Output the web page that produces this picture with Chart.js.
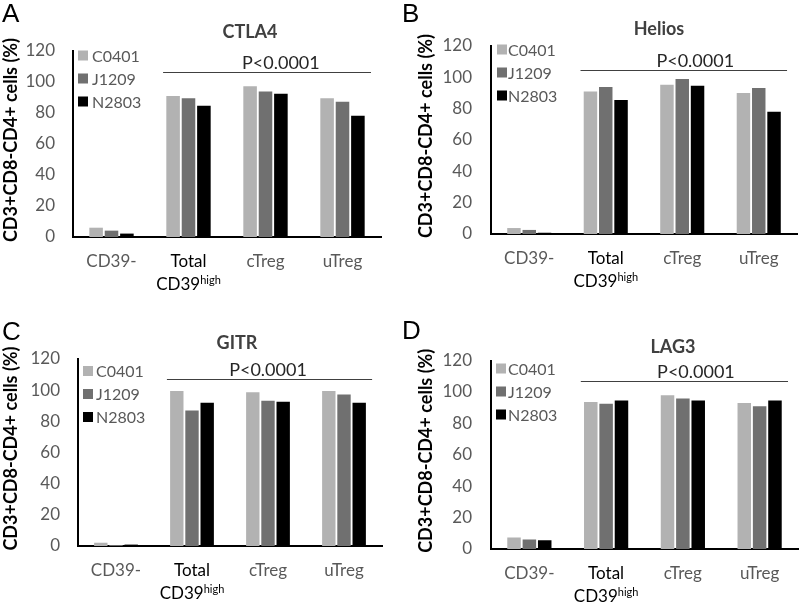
<!DOCTYPE html>
<html>
<head>
<meta charset="utf-8">
<script src="https://cdn.jsdelivr.net/npm/chart.js@4/dist/chart.umd.min.js"></script>
<style>
  body { margin: 0; background: #fff; }
  #wrap { position: relative; width: 800px; height: 609px; }
  #wrap canvas { position: absolute; }
</style>
</head>
<body>
<div id="wrap">
  <canvas id="panelA" width="400" height="300" style="left:0;top:0"></canvas>
  <canvas id="panelB" width="400" height="300" style="left:400px;top:0"></canvas>
  <canvas id="panelC" width="400" height="309" style="left:0;top:300px"></canvas>
  <canvas id="panelD" width="400" height="309" style="left:400px;top:300px"></canvas>
</div>
<script>
// categories, series and ticks (shared by the four panels)
const categories = ['CD39-', 'Total\nCD39^high', 'cTreg', 'uTreg'];
const seriesNames = ['C0401', 'J1209', 'N2803'];
const yTicks = [0, 20, 40, 60, 80, 100, 120];
const yTitle = 'CD3+CD8-CD4+ cells (%)';
const sigText = 'P<0.0001';

// CTLA4 (A)
const ctla4C0401 = [6.0, 91.0, 97.2, 89.5];
const ctla4J1209 = [4.1, 89.5, 93.8, 87.3];
const ctla4N2803 = [2.2, 84.7, 92.5, 78.3];

// Helios (B)
const heliosC0401 = [3.8, 91.0, 95.3, 90.0];
const heliosJ1209 = [2.6, 93.8, 98.9, 93.2];
const heliosN2803 = [0.8, 85.5, 94.7, 78.1];

// GITR (C)
const gitrC0401 = [2.1, 99.4, 98.7, 99.4];
const gitrJ1209 = [0.6, 87.0, 93.2, 97.2];
const gitrN2803 = [0.9, 91.9, 92.5, 91.9];

// LAG3 (D)
const lag3C0401 = [7.4, 93.6, 97.9, 93.0];
const lag3J1209 = [6.1, 92.4, 95.8, 90.9];
const lag3N2803 = [5.5, 94.5, 94.5, 94.5];

// significance bar: from / to (category index), height (value)
const sigFrom = 0.67;
const sigTo = 3.37;
const sigLevels = [106.5, 104.5, 107, 107];

// styling
const seriesColors = ['#b2b2b2', '#707070', '#000000'];
const labelColors = ['#595959', '#000000', '#595959', '#595959'];
const grayText = '#595959';

const panels = [
    { id: 'panelA', letter: 'A', title: 'CTLA4', values: [ctla4C0401, ctla4J1209, ctla4N2803], sig: sigLevels[0],
      w: 400, h: 300, area: { l: 73, r: 381, t: 51, b: 237 }, tickPad: 18,
      titleX: 250, titleY: 32, letterY: 22, yTitleX: 11, legendX: 78, legendY: 55.5, legendTextX: 92, pIdx: 2.2 },
    { id: 'panelB', letter: 'B', title: 'Helios', values: [heliosC0401, heliosJ1209, heliosN2803], sig: sigLevels[1],
      w: 400, h: 300, area: { l: 91, r: 397, t: 46, b: 234 }, tickPad: 19,
      titleX: 259, titleY: 29, letterY: 22, yTitleX: 26, legendX: 97, legendY: 49.5, legendTextX: 108, pIdx: 2.17 },
    { id: 'panelC', letter: 'C', title: 'GITR', values: [gitrC0401, gitrJ1209, gitrN2803], sig: sigLevels[2],
      w: 400, h: 309, area: { l: 78, r: 382, t: 59, b: 246 }, tickPad: 18,
      titleX: 237, titleY: 43, letterY: 40, yTitleX: 11, legendX: 83, legendY: 71, legendTextX: 96, pIdx: 2.0 },
    { id: 'panelD', letter: 'D', title: 'LAG3', values: [lag3C0401, lag3J1209, lag3N2803], sig: sigLevels[3],
      w: 400, h: 309, area: { l: 91, r: 398, t: 60.5, b: 249 }, tickPad: 19,
      titleX: 273, titleY: 47, letterY: 39, yTitleX: 26, legendX: 96, legendY: 68.5, legendTextX: 108, pIdx: 2.17 }
];

// titles, legend, significance bar and two-line category labels
const panelDecor = {
    id: 'panelDecor',
    afterDraw(chart) {
        const p = panels.find(q => q.id === chart.canvas.id);
        const ctx = chart.ctx;
        const xs = chart.scales.x;
        const ys = chart.scales.y;
        const area = chart.chartArea;
        ctx.save();

        ctx.fillStyle = '#000';
        ctx.textAlign = 'left';
        ctx.textBaseline = 'alphabetic';
        ctx.font = '26px "Liberation Sans"';
        ctx.fillText(p.letter, 2, p.letterY);

        ctx.fillStyle = '#404040';
        ctx.textAlign = 'center';
        ctx.textBaseline = 'middle';
        ctx.font = 'bold 18px Lato';
        ctx.fillText(p.title, p.titleX, p.titleY);

        // y axis title
        ctx.save();
        ctx.translate(p.yTitleX, (area.top + area.bottom) / 2 - 4);
        ctx.rotate(-Math.PI / 2);
        ctx.fillStyle = '#000';
        ctx.font = 'bold 18px Lato';
        ctx.fillText(yTitle, 0, 0);
        ctx.restore();

        // legend
        ctx.textAlign = 'left';
        ctx.font = '16px Lato';
        seriesNames.forEach(function(name, i) {
            const cy = p.legendY + i * 23;
            ctx.fillStyle = seriesColors[i];
            ctx.fillRect(p.legendX, cy - 5, 10, 10);
            ctx.fillStyle = grayText;
            ctx.fillText(name, p.legendTextX, cy + 1);
        });

        // significance bar
        const y = ys.getPixelForValue(p.sig);
        ctx.strokeStyle = '#404040';
        ctx.lineWidth = 1;
        ctx.beginPath();
        ctx.moveTo(xs.getPixelForValue(sigFrom), Math.round(y) + 0.5);
        ctx.lineTo(xs.getPixelForValue(sigTo), Math.round(y) + 0.5);
        ctx.stroke();
        ctx.fillStyle = '#262626';
        ctx.textAlign = 'center';
        ctx.textBaseline = 'alphabetic';
        ctx.font = '18px Lato';
        ctx.fillText(sigText, xs.getPixelForValue(p.pIdx), y - 3);

        // category labels
        ctx.textBaseline = 'middle';
        categories.forEach(function(label, i) {
            const cx = xs.getPixelForTick(i);
            ctx.fillStyle = labelColors[i];
            label.split('\n').forEach(function(line, j) {
                const ly = area.bottom + 25 + j * 23;
                const parts = line.split('^');
                ctx.font = '17px Lato';
                if (parts.length === 1) {
                    ctx.textAlign = 'center';
                    ctx.fillText(line, cx, ly);
                    return;
                }
                const w1 = ctx.measureText(parts[0]).width;
                ctx.font = '11px Lato';
                const w2 = ctx.measureText(parts[1]).width;
                const x0 = cx - (w1 + w2) / 2;
                ctx.textAlign = 'left';
                ctx.font = '17px Lato';
                ctx.fillText(parts[0], x0, ly);
                ctx.font = '11px Lato';
                ctx.fillText(parts[1], x0 + w1, ly - 5);
            });
        });
        ctx.restore();
    }
};

function makeChart(p) {
    const ctx = document.getElementById(p.id).getContext('2d');
    new Chart(ctx, {
        type: 'bar',
        data: {
            labels: categories,
            datasets: seriesNames.map(function(name, i) {
                return {
                    label: name,
                    data: p.values[i],
                    backgroundColor: seriesColors[i],
                    categoryPercentage: 0.6,
                    barPercentage: 0.88
                };
            })
        },
        options: {
            responsive: false,
            animation: false,
            layout: {
                padding: { top: p.area.t, right: p.w - p.area.r, bottom: 0, left: 0 }
            },
            plugins: {
                legend: { display: false },
                tooltip: { enabled: false }
            },
            scales: {
                x: {
                    grid: { display: false, drawTicks: false },
                    border: { display: true, color: '#000', width: 2 },
                    ticks: { display: false },
                    afterFit: function(scale) { scale.height = p.h - p.area.b; }
                },
                y: {
                    min: 0,
                    max: 120,
                    afterBuildTicks: function(scale) {
                        scale.ticks = yTicks.map(v => ({ value: v }));
                    },
                    grid: { display: false, drawTicks: false },
                    border: { display: true, color: '#000', width: 2 },
                    ticks: {
                        padding: p.tickPad,
                        color: grayText,
                        font: { family: 'Lato', size: 17 }
                    },
                    afterFit: function(scale) { scale.width = p.area.l; }
                }
            }
        },
        plugins: [panelDecor]
    });
}

panels.forEach(makeChart);
</script>
</body>
</html>
